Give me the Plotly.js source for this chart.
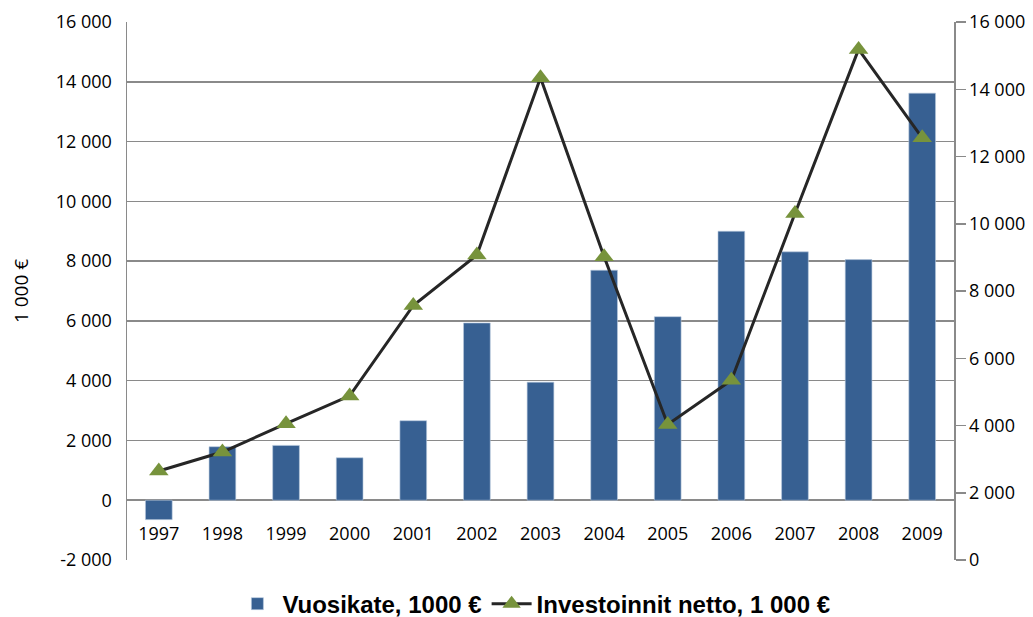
<!DOCTYPE html>
<html>
<head>
<meta charset="utf-8">
<script src="https://cdn.plot.ly/plotly-3.0.1.min.js"></script>
<style>html,body{margin:0;padding:0;background:#fff;}#chart{width:1033px;height:617px;}</style>
</head>
<body>
<div id="chart"></div>
<script>
const years = ['1997','1998','1999','2000','2001','2002','2003','2004','2005','2006','2007','2008','2009'];
const vuosikate = [-650, 1790, 1835, 1420, 2660, 5930, 3950, 7695, 6140, 9000, 8310, 8050, 13620];
const investoinnit = [2645, 3210, 4055, 4880, 7570, 9070, 14340, 9015, 4030, 5345, 10305, 15185, 12555];
const leftTicks = [-2000, 0, 2000, 4000, 6000, 8000, 10000, 12000, 14000, 16000];
const leftTickLabels = ['-2 000', '0', '2 000', '4 000', '6 000', '8 000', '10 000', '12 000', '14 000', '16 000'];
const rightTicks = [0, 2000, 4000, 6000, 8000, 10000, 12000, 14000, 16000];
const rightTickLabels = ['0', '2 000', '4 000', '6 000', '8 000', '10 000', '12 000', '14 000', '16 000'];
const barName = 'Vuosikate, 1000 €';
const lineName = 'Investoinnit netto, 1 000 €';
const yTitle = '1 000 €';

const tickFont = {family: 'Open Sans, Noto Sans, sans-serif', size: 18, color: '#000'};
const gridColor = '#8a8a8a';
const yMin = -2000, yMax = 16000;

const traces = [
  {type: 'bar', x: years, y: vuosikate, name: barName, yaxis: 'y', xaxis: 'x',
   marker: {color: '#376092', line: {color: '#b9c9de', width: 0.6}}, width: 0.42},
  {type: 'scatter', mode: 'lines+markers', x: years, y: investoinnit, name: lineName, yaxis: 'y2', xaxis: 'x',
   line: {color: '#262626', width: 3},
   marker: {symbol: 'triangle-up', size: 17, color: '#77933c'}}
];

const layout = {
  width: 1033, height: 617,
  margin: {l: 127, r: 79, t: 22, b: 57},
  paper_bgcolor: '#fff', plot_bgcolor: '#fff',
  showlegend: true,
  legend: {orientation: 'h', x: 0.492, xanchor: 'center', yref: 'container', y: 0.021, yanchor: 'middle',
           font: {family: 'Liberation Sans, Arial, sans-serif', size: 24, color: '#000', weight: 'bold'},
           itemwidth: 40, tracegroupgap: 0},
  xaxis: {type: 'category', range: [-0.5, years.length - 0.5], autorange: false,
          anchor: 'free', position: 0.072,
          showline: false, ticks: '', showgrid: false, zeroline: false,
          tickfont: tickFont},
  yaxis: {range: [yMin, yMax], tickvals: leftTicks, ticktext: leftTickLabels, tickfont: tickFont,
          showgrid: true, gridcolor: gridColor, gridwidth: 1.5,
          zeroline: true, zerolinecolor: gridColor, zerolinewidth: 1.5,
          showline: true, linecolor: gridColor, linewidth: 1.5, ticks: '', ticklabelstandoff: 10,
          title: {text: yTitle, font: {family: 'Open Sans, Noto Sans, sans-serif', size: 19, color: '#000'}, standoff: 22}},
  yaxis2: {range: [0, 16000], tickvals: rightTicks, ticktext: rightTickLabels, tickfont: tickFont,
           overlaying: 'y', side: 'right', showgrid: false, zeroline: false,
           showline: true, linecolor: gridColor, linewidth: 1.5,
           ticks: 'outside', ticklen: 10, tickcolor: gridColor, tickwidth: 1.5}
};

Plotly.newPlot('chart', traces, layout, {displayModeBar: false, staticPlot: true});
</script>
</body>
</html>
